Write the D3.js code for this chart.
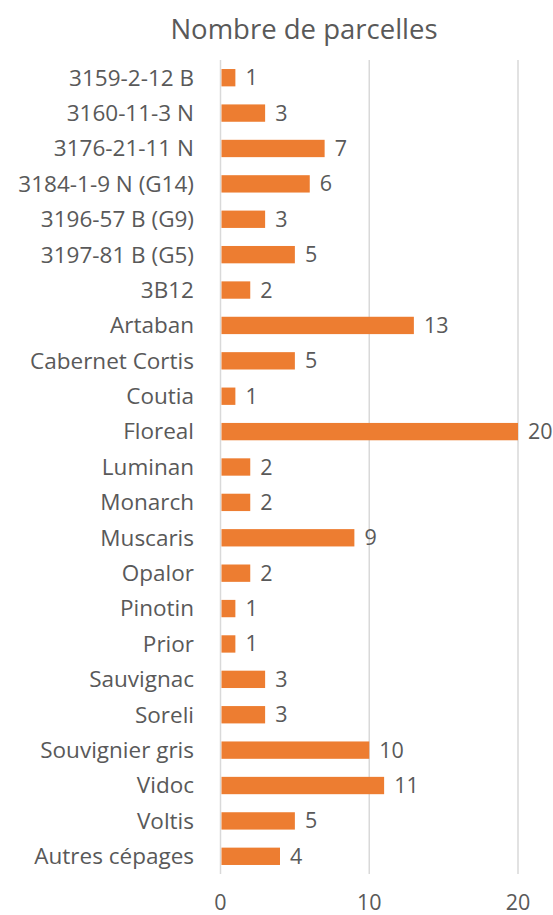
<!DOCTYPE html>
<html><head><meta charset="utf-8">
<script src="https://cdn.jsdelivr.net/npm/d3@7"></script>
<style>body{margin:0;background:#fff}svg{display:block}text{font-family:"Open Sans",sans-serif;fill:#595959}</style>
</head><body>
<script>
const categories = ["3159-2-12 B","3160-11-3 N","3176-21-11 N","3184-1-9 N (G14)","3196-57 B (G9)","3197-81 B (G5)","3B12","Artaban","Cabernet Cortis","Coutia","Floreal","Luminan","Monarch","Muscaris","Opalor","Pinotin","Prior","Sauvignac","Soreli","Souvignier gris","Vidoc","Voltis","Autres cépages"];
const values = [1,3,7,6,3,5,2,13,5,1,20,2,2,9,2,1,1,3,3,10,11,5,4];
const ticks = [0,10,20];
const title = "Nombre de parcelles";

const W = 553, H = 915;
const svg = d3.select("body").append("svg").attr("width", W).attr("height", H);
const x = d3.scaleLinear().domain([0,20]).range([220.5,518]);
const y = d3.scaleBand().domain(categories).range([60,874]).paddingInner(0.51).paddingOuter(0.255);

svg.append("g").selectAll("line").data(ticks).join("line")
  .attr("x1", d=>x(d)).attr("x2", d=>x(d)).attr("y1",60).attr("y2",874)
  .attr("stroke","#d9d9d9").attr("stroke-width",1.5);

svg.append("g").selectAll("rect").data(values).join("rect")
  .attr("x", x(0)+1).attr("y",(d,i)=>y(categories[i]))
  .attr("width", d=>x(d)-x(0)-1).attr("height", y.bandwidth())
  .attr("fill","#ed7d31");

svg.append("g").selectAll("text").data(values).join("text")
  .attr("x", d=>x(d)+10).attr("y",(d,i)=>y(categories[i])+y.bandwidth()/2)
  .attr("dy","0.35em").attr("font-size",21.5).text(d=>d);

svg.append("g").selectAll("text").data(categories).join("text")
  .attr("x",194).attr("y",d=>y(d)+y.bandwidth()/2).attr("dy","0.35em")
  .attr("text-anchor","end").attr("font-size",22.5).text(d=>d);

svg.append("g").selectAll("text").data(ticks).join("text")
  .attr("x",d=>x(d)).attr("y",902).attr("dy","0.35em")
  .attr("text-anchor","middle").attr("font-size",21.5).text(d=>d);

svg.append("text").attr("x",304).attr("y",29).attr("dy","0.35em")
  .attr("text-anchor","middle").attr("font-size",27.5).text(title);
</script>
</body></html>
